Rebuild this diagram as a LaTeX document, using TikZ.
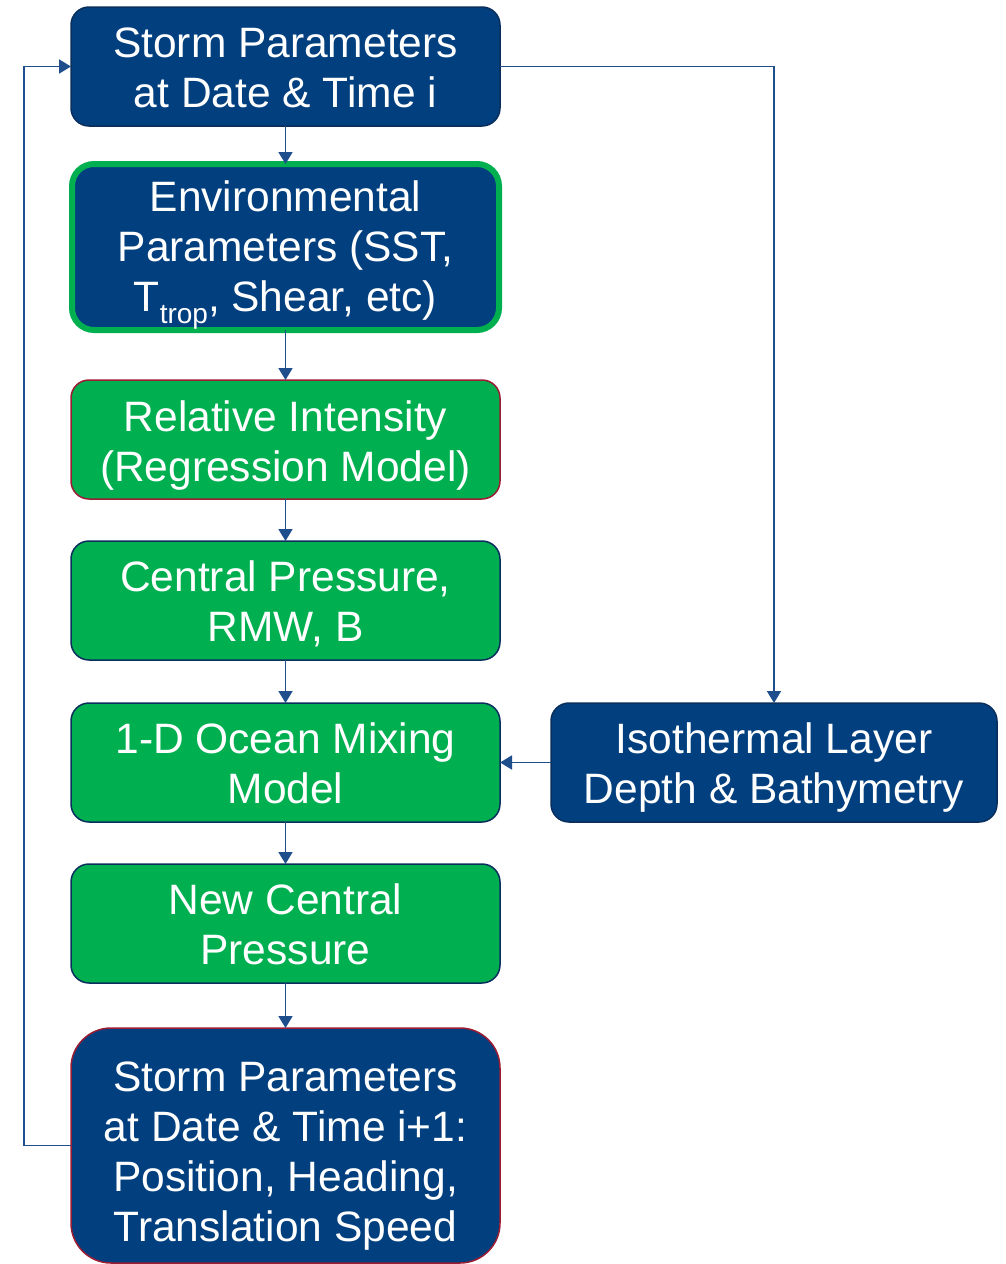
\documentclass[tikz,border=0pt]{standalone}
\usepackage{fontspec}
\setmainfont{Liberation Sans}
\usetikzlibrary{arrows.meta}
\definecolor{navy}{HTML}{023F7E}
\definecolor{navyedge}{HTML}{0A2F5C}
\definecolor{grn}{HTML}{00B050}
\definecolor{dred}{HTML}{9C1C34}
\definecolor{lineblue}{HTML}{1F4E8C}
\newcommand\dn[2][12pt]{\raisebox{0pt}[\dimexpr\height+#1\relax][\depth]{\begin{tabular}{@{}c@{}}#2\end{tabular}}}
\begin{document}
\begin{tikzpicture}[x=1pt,y=-1pt,
  box/.style={rounded corners=18pt, minimum width=429pt, minimum height=119pt,
    inner sep=0pt, outer sep=0pt, text=white,
    font=\fontsize{42.5}{50}\selectfont, line width=1.5pt},
  bluebox/.style={box, fill=navy, draw=navyedge},
  greenbox/.style={box, fill=grn, draw=navyedge},
  conn/.style={draw=lineblue, line width=1.8pt, -{Triangle[width=14pt,length=12pt]}}]
\useasboundingbox (0,0) rectangle (1005,1264);
\node[bluebox] (b1) at (285.5,66.5) {\dn[11pt]{Storm Parameters\\at Date \& Time i}};
\node[bluebox, draw=grn, line width=6pt, minimum width=427pt, minimum height=166pt, rounded corners=22pt] (b2) at (285.5,247)
  {\dn{Environmental\\Parameters (SST,\\T\raisebox{-0.3em}{\fontsize{28}{28}\selectfont trop}, Shear, etc)}};
\node[greenbox, draw=dred] (b3) at (285.5,439.5) {\dn[13pt]{Relative Intensity\\(Regression Model)}};
\node[greenbox] (b4) at (285.5,600.5) {\dn{Central Pressure,\\RMW, B}};
\node[greenbox] (b5) at (285.5,762.5) {\dn{1-D Ocean Mixing\\Model}};
\node[greenbox] (b6) at (285.5,923.5) {\dn{New Central\\Pressure}};
\node[bluebox, draw=dred, minimum height=235pt, rounded corners=40pt] (b7) at (285.5,1145.5)
  {\dn[22pt]{Storm Parameters\\at Date \& Time i+1:\\Position, Heading,\\Translation Speed}};
\node[bluebox, minimum width=446pt] (b8) at (774,762.5) {\dn[11pt]{Isothermal Layer\\Depth \& Bathymetry}};
\draw[conn] (b1.south) -- (b2.north);
\draw[conn] (b2.south) -- (b3.north);
\draw[conn] (b3.south) -- (b4.north);
\draw[conn] (b4.south) -- (b5.north);
\draw[conn] (b5.south) -- (b6.north);
\draw[conn] (b6.south) -- (b7.north);
\draw[conn] (b7.west) -- ++(-47,0) |- (b1.west);
\draw[conn] (b1.east) -| (b8.north);
\draw[conn] (b8.west) -- (b5.east);
\end{tikzpicture}
\end{document}
